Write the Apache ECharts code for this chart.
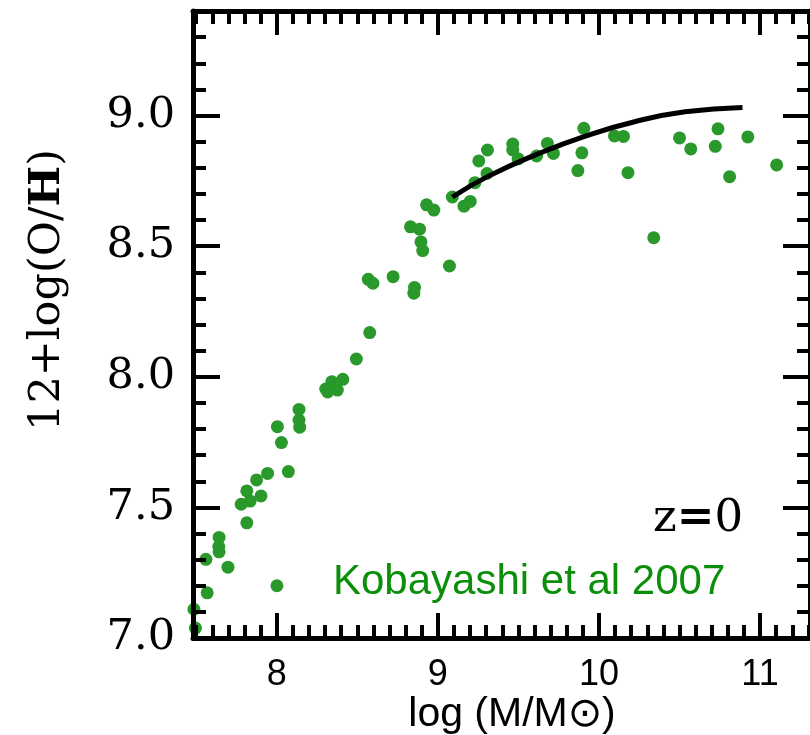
<!DOCTYPE html>
<html>
<head>
<meta charset="utf-8">
<script src="https://cdn.jsdelivr.net/npm/echarts@6/dist/echarts.min.js"></script>
<style>
  html, body { margin: 0; padding: 0; background: #ffffff; }
  #chart { width: 810px; height: 735px; }
</style>
</head>
<body>
<div id="chart"></div>
<script>
// Galaxy stellar mass (log M/Msun) and gas-phase oxygen abundance, z = 0
const massLog = [
  8.138, 8.138, 8.142, 8.004, 8.029, 8.072, 7.943, 7.875, 7.814, 7.835,
  7.779, 7.902, 7.814, 7.642, 7.640, 7.642, 7.560, 7.697, 8.001, 7.568,
  7.486, 7.495, 9.090, 9.162, 9.201, 8.930, 8.975, 8.830, 8.886, 8.895,
  8.906, 9.072, 8.568, 8.597, 8.722, 8.855, 8.851, 8.577, 8.494, 8.410,
  8.342, 8.304, 8.316, 8.376, 9.906, 10.096, 10.152, 9.680, 9.717, 9.465,
  9.465, 9.498, 9.308, 9.254, 9.305, 9.230, 9.613, 9.894, 9.869, 10.180,
  10.340, 10.500, 10.570, 10.739, 10.722, 10.811, 10.924, 11.103
];
const oxygenAbundance = [
  7.875, 7.834, 7.807, 7.809, 7.748, 7.637, 7.630, 7.605, 7.563, 7.524,
  7.512, 7.544, 7.441, 7.385, 7.350, 7.330, 7.301, 7.271, 7.200, 7.173,
  7.110, 7.038, 8.688, 8.653, 8.671, 8.658, 8.638, 8.574, 8.565, 8.516,
  8.483, 8.424, 8.373, 8.358, 8.383, 8.342, 8.320, 8.169, 8.068, 7.990,
  7.981, 7.953, 7.942, 7.949, 8.951, 8.922, 8.920, 8.893, 8.855, 8.891,
  8.868, 8.834, 8.868, 8.826, 8.778, 8.743, 8.845, 8.857, 8.789, 8.781,
  8.532, 8.914, 8.872, 8.949, 8.882, 8.766, 8.918, 8.811
];

// Model mass-metallicity relation (Kobayashi et al 2007)
const modelMass = [9.090, 9.305, 9.613, 9.920, 10.227, 10.535, 10.891];
const modelOH   = [8.688, 8.765, 8.851, 8.922, 8.977, 9.014, 9.031];

const xTickLabels = [8, 9, 10, 11];
const yTickLabels = [7.0, 7.5, 8.0, 8.5, 9.0];
const xRange = [7.48, 11.31];
const yRange = [7.0, 9.4];

// minor ticks every 0.1 inside the range, skipping the labelled ones
function minorTicks(lo, hi, majors) {
  const out = [];
  for (let k = Math.ceil(lo * 10 + 1e-6); k <= Math.floor(hi * 10 - 1e-6); k++) {
    const v = k / 10;
    if (!majors.some(m => Math.abs(m - v) < 1e-6)) out.push(v);
  }
  return out;
}
const xMinor = minorTicks(xRange[0], xRange[1], xTickLabels);
const yMinor = minorTicks(yRange[0], yRange[1], yTickLabels);

const frameColor = '#000000';
const frameWidth = 5;
const tickWidth = 4;

function axisDef(range, position, ticks, tickLen, withLine, labels) {
  return {
    type: 'value',
    position: position,
    min: range[0],
    max: range[1],
    z: 5,
    axisLine: { show: withLine, onZero: false, lineStyle: { color: frameColor, width: frameWidth } },
    axisTick: {
      show: true, inside: true, length: tickLen, customValues: ticks,
      lineStyle: { color: frameColor, width: tickWidth }
    },
    axisLabel: labels ? labels : { show: false },
    splitLine: { show: false }
  };
}

const xLabelStyle = {
  show: true, customValues: xTickLabels, margin: 19,
  color: '#000', fontSize: 36, fontFamily: '"Liberation Sans", Arial, sans-serif',
  formatter: v => String(v)
};
const yLabelStyle = {
  show: true, customValues: yTickLabels, margin: 18,
  color: '#000', fontSize: 43, fontFamily: '"DejaVu Serif", serif',
  formatter: v => v.toFixed(1)
};

const chart = echarts.init(document.getElementById('chart'), null, { renderer: 'canvas' });

chart.setOption({
  animation: false,
  backgroundColor: '#ffffff',
  grid: { left: 193, top: 11, width: 623, height: 627, containLabel: false },
  xAxis: [
    axisDef(xRange, 'bottom', xTickLabels, 25, true, xLabelStyle),
    axisDef(xRange, 'bottom', xMinor, 13, false, null),
    axisDef(xRange, 'top', xTickLabels, 24, true, null),
    axisDef(xRange, 'top', xMinor, 13, false, null)
  ],
  yAxis: [
    axisDef(yRange, 'left', yTickLabels, 27, true, yLabelStyle),
    axisDef(yRange, 'left', yMinor, 13, false, null),
    axisDef(yRange, 'right', yTickLabels, 27, true, null),
    axisDef(yRange, 'right', yMinor, 13, false, null)
  ],
  series: [
    {
      type: 'scatter',
      xAxisIndex: 0, yAxisIndex: 0,
      symbol: 'circle',
      symbolSize: 13,
      itemStyle: { color: '#2a992c', opacity: 1 },
      clip: true,
      z: 2,
      data: massLog.map((m, i) => [m, oxygenAbundance[i]])
    },
    {
      type: 'line',
      xAxisIndex: 0, yAxisIndex: 0,
      showSymbol: false,
      smooth: 0.5,
      lineStyle: { color: '#000000', width: 5 },
      z: 3,
      data: modelMass.map((m, i) => [m, modelOH[i]])
    }
  ],
  graphic: [
    {
      type: 'text', x: 48, y: 290, rotation: Math.PI / 2,
      style: {
        text: '{n|12+log(O/}{h|H}{n|)}',
        align: 'center', verticalAlign: 'middle',
        rich: {
          n: { fontSize: 43, fontFamily: '"DejaVu Serif", serif', fill: '#000' },
          h: { fontSize: 43, fontFamily: '"DejaVu Serif", serif', fontWeight: 'bold', fill: '#000' }
        }
      }
    },
    {
      type: 'text', x: 512, y: 715,
      style: {
        text: 'log (M/M\u2299)',
        align: 'center', verticalAlign: 'middle',
        fontSize: 41, fontFamily: '"Liberation Sans", Arial, "DejaVu Sans", sans-serif',
        fill: '#000'
      }
    },
    {
      type: 'text', x: 653, y: 519,
      style: {
        text: '{n|z}{b|=}{n|0}',
        align: 'left', verticalAlign: 'middle',
        rich: {
          n: { fontSize: 45, fontFamily: '"DejaVu Serif", serif', fill: '#000' },
          b: { fontSize: 45, fontFamily: '"DejaVu Serif", serif', fontWeight: 'bold', fill: '#000' }
        }
      }
    },
    {
      type: 'text', x: 333, y: 582,
      style: {
        text: 'Kobayashi et al 2007',
        align: 'left', verticalAlign: 'middle',
        fontSize: 42, fontFamily: '"Liberation Sans", Arial, sans-serif',
        fill: '#0b8f0b'
      }
    }
  ]
});
</script>
</body>
</html>
